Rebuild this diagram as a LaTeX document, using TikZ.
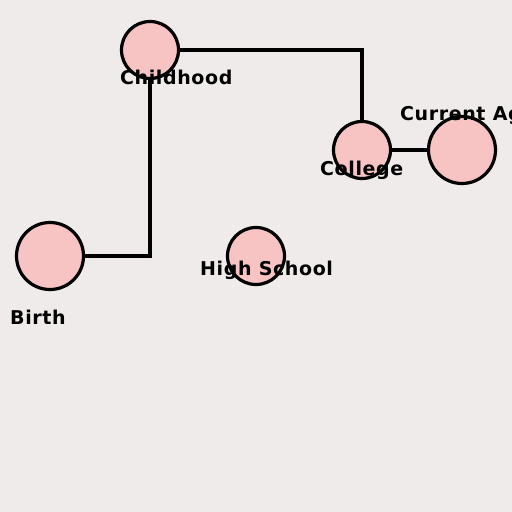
\documentclass[tikz,border=0pt]{standalone}
\usepackage{fontspec}
\setmainfont{DejaVu Sans}
\newfontfamily\labfont[LetterSpace=3.2]{DejaVu Sans}
\definecolor{bg}{RGB}{239,235,234}
\definecolor{pinkfill}{RGB}{248,195,195}
\tikzset{
  event/.style={circle, draw=black, line width=3.2pt, fill=pinkfill, inner sep=0pt, minimum size=#1},
  lab/.style={anchor=base west, inner sep=0pt, font=\labfont\fontsize{19}{19}\selectfont\bfseries},
  link/.style={line width=3.6pt, line cap=butt, line join=miter}
}
\begin{document}
\begin{tikzpicture}[x=1pt, y=-1pt]
\useasboundingbox (0,0) rectangle (512,512);
\fill[bg] (0,0) rectangle (512,512);
\clip (0,0) rectangle (512,512);
\node[event=57pt] (childhood) at (150,50) {};
\node[event=57pt] (college) at (362,150) {};
\node[event=67pt] (current) at (462,150) {};
\node[event=67pt] (birth) at (50,256) {};
\node[event=57pt] (highschool) at (256,256) {};
\draw[link] (birth.east) -- (birth.east -| childhood.south) -- (childhood.south);
\draw[link] (childhood.east) -- (childhood.east -| college.north) -- (college.north);
\draw[link] (college.east) -- (current.west);
\node[lab] (lchildhood) at (120,84) {Childhood};
\node[lab] (lcollege) at (320,175) {College};
\node[lab] (lcurrent) at (400,120) {Current Age};
\node[lab] (lhighschool) at (200,275) {High School};
\node[lab] (lbirth) at (10,324) {Birth};
\end{tikzpicture}
\end{document}
